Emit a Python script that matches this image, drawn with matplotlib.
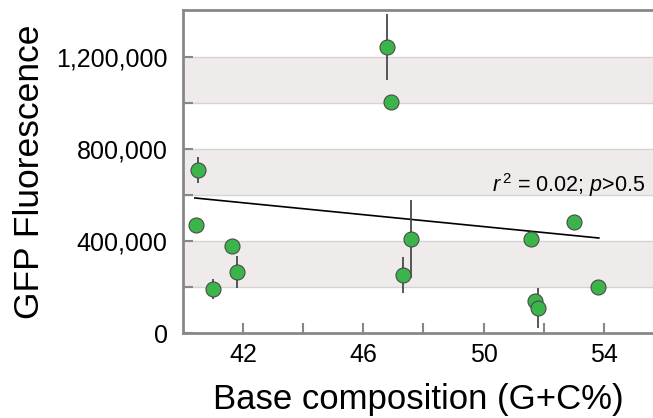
import numpy as np
import matplotlib.pyplot as plt

plt.rcParams['font.family'] = ['Liberation Sans', 'DejaVu Sans']
plt.rcParams['mathtext.fontset'] = 'custom'
plt.rcParams['mathtext.rm'] = 'Liberation Sans'
plt.rcParams['mathtext.it'] = 'Liberation Sans:italic'

# data
gc_content = [46.8, 46.93, 40.5, 40.43, 41.63, 41.8, 41.0, 47.33, 47.57, 51.57, 51.7, 51.8, 53.0, 53.8]
fluorescence = [1243000, 1004000, 709000, 470000, 378000, 265000, 191000, 252000, 409000, 409000, 139000, 109000, 483000, 200000]
fluor_err = [145000, 0, 55000, 0, 0, 70000, 45000, 80000, 170000, 0, 0, 87000, 0, 0]

fit_x = [40.4, 53.83]
fit_y = [587000, 413000]

x_ticks = [42, 44, 46, 48, 50, 52, 54]
x_labels = ['42', '', '46', '', '50', '', '54']
y_ticks = [0, 200000, 400000, 600000, 800000, 1000000, 1200000]
y_labels = ['0', '', '400,000', '', '800,000', '', '1,200,000']
band_edges = [(200000, 400000), (600000, 800000), (1000000, 1200000)]

fig = plt.figure(figsize=(6.53, 4.18), dpi=100)
ax = fig.add_axes([0.280, 0.2033, 0.72, 0.7727])

for lo, hi in band_edges:
    ax.axhspan(lo, hi, color='#efebeb', zorder=0, lw=0)
for y in y_ticks[1:]:
    ax.axhline(y, color='#d6d3d3', lw=1, zorder=0.5)

ax.plot(fit_x, fit_y, color='black', lw=1.2, zorder=2)

err = np.array(fluor_err)
mask = err > 0
ax.errorbar(np.array(gc_content)[mask], np.array(fluorescence)[mask], yerr=err[mask],
            fmt='none', ecolor='#4a4a4a', elinewidth=1.3, capsize=0, zorder=2)
ax.plot(gc_content, fluorescence, 'o', color='#3bb54a', markeredgecolor='#4a4a4a',
        markeredgewidth=0.8, markersize=10.8, zorder=3, clip_on=False)

ax.text(0.983, 0.4365, r'$r^{\,2}$ = 0.02; $p$>0.5', transform=ax.transAxes,
        ha='right', va='baseline', fontsize=15.5)

ax.set_xlim(40, 55.63)
ax.set_ylim(0, 1404000)
ax.set_xticks(x_ticks)
ax.set_xticklabels(x_labels)
ax.set_yticks(y_ticks)
ax.set_yticklabels(y_labels)
ax.tick_params(direction='in', length=7, width=1.5, color='#888888', labelsize=18)
ax.tick_params(axis='x', pad=7)
ax.tick_params(axis='y', pad=11)

for side in ['left', 'bottom', 'top']:
    ax.spines[side].set_color('#888888')
    ax.spines[side].set_linewidth(2)
ax.spines['right'].set_visible(False)

ax.set_xlabel('Base composition (G+C%)', fontsize=25, labelpad=12)
ax.set_ylabel('GFP Fluorescence', fontsize=25.5, labelpad=7)

fig.savefig('out.png', dpi=100)
